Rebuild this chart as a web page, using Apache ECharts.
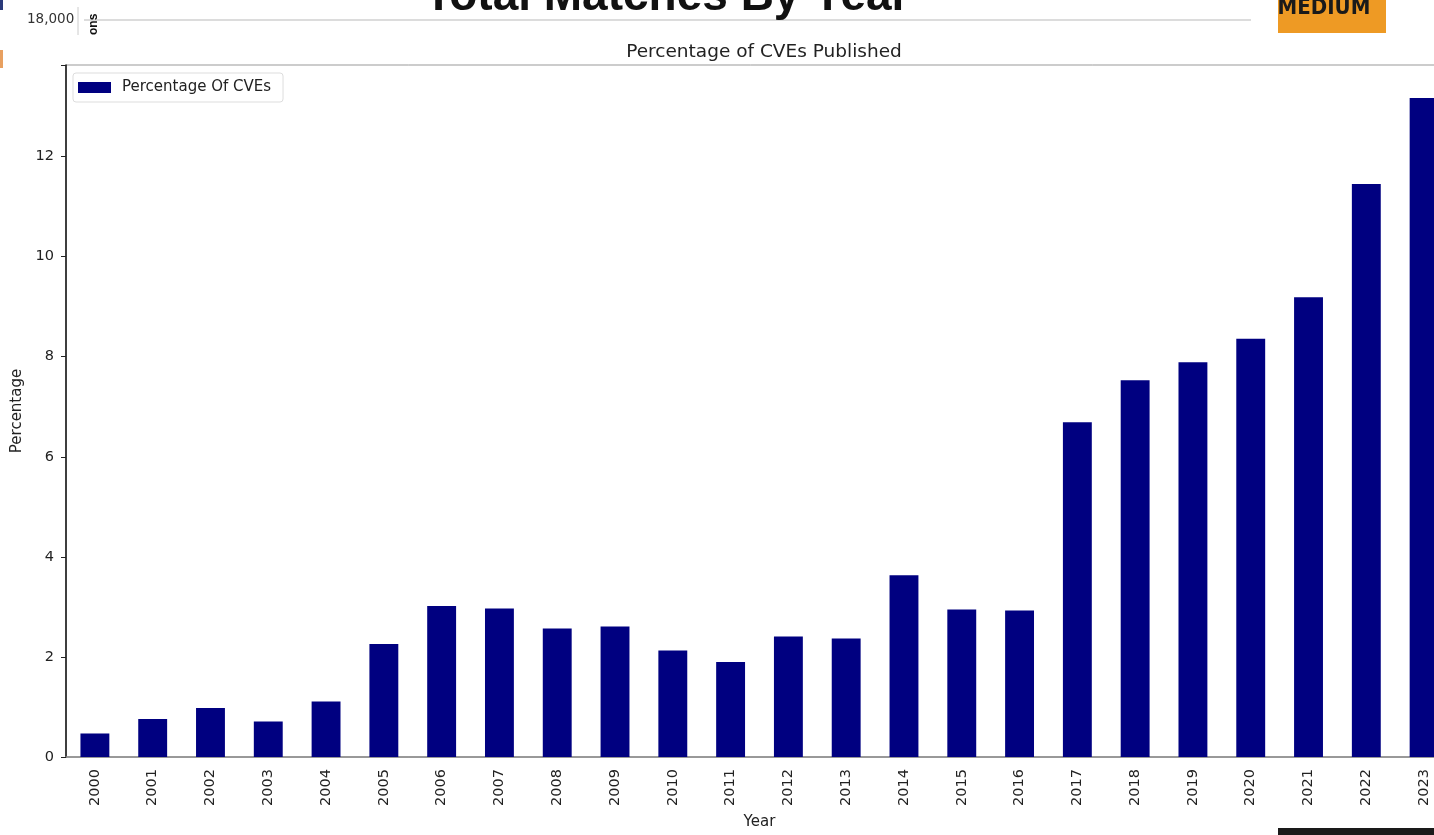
<!DOCTYPE html>
<html>
<head>
<meta charset="UTF-8" />
<title>Percentage of CVEs Published</title>
<script src="https://cdn.jsdelivr.net/npm/echarts@6/dist/echarts.min.js"></script>
<style>
html, body { margin: 0; padding: 0; background: #fff; }
#chart { width: 1434px; height: 835px; }
</style>
</head>
<body>
<div id="chart"></div>
<script>
// data
var years = ["2000", "2001", "2002", "2003", "2004", "2005", "2006", "2007",
  "2008", "2009", "2010", "2011", "2012", "2013", "2014", "2015",
  "2016", "2017", "2018", "2019", "2020", "2021", "2022", "2023"];
var percentOfCves = [0.47, 0.76, 0.98, 0.71, 1.11, 2.26, 3.02, 2.97,
  2.57, 2.61, 2.13, 1.90, 2.41, 2.37, 3.63, 2.95,
  2.93, 6.69, 7.53, 7.89, 8.36, 9.19, 11.45, 13.17];
var yTicks = [0, 2, 4, 6, 8, 10, 12];

var font = "DejaVu Sans";
var myChart = echarts.init(document.getElementById("chart"));

var option = {
  animation: false,
  textStyle: { fontFamily: font },
  title: {
    text: "Percentage of CVEs Published",
    left: 759, top: 38, textAlign: "center",
    textStyle: { fontFamily: font, fontSize: 18.5, fontWeight: "normal", color: "#222" }
  },
  legend: {
    data: ["Percentage Of CVEs"],
    icon: "rect",
    left: 73, top: 73,
    padding: [7, 12, 7, 5],
    itemWidth: 33, itemHeight: 11, itemGap: 10,
    borderColor: "#ddd", borderWidth: 1, borderRadius: 3,
    textStyle: { fontFamily: font, fontSize: 15, color: "#222", padding: [0, 0, 0, 6] }
  },
  grid: {
    left: 66, top: 65, right: -19, bottom: 78,
    outerBoundsMode: "none",
    containLabel: false,
    show: true, borderColor: "#999", borderWidth: 1, backgroundColor: "#fff"
  },
  xAxis: {
    type: "category",
    data: years,
    name: "Year",
    nameLocation: "middle",
    nameGap: 58,
    nameTextStyle: { fontFamily: font, fontSize: 15, color: "#222" },
    axisLine: { lineStyle: { color: "#888", width: 1.5 } },
    axisTick: { alignWithLabel: true, length: 5, lineStyle: { color: "#222" } },
    axisLabel: { rotate: 90, margin: 12, fontFamily: font, fontSize: 14.5, color: "#222" },
    splitLine: { show: false }
  },
  yAxis: {
    type: "value",
    min: 0, max: 13.83, interval: 2,
    name: "Percentage",
    nameLocation: "middle",
    nameGap: 40,
    nameTextStyle: { fontFamily: font, fontSize: 15, color: "#222" },
    axisLine: { show: true, lineStyle: { color: "#111", width: 1.5 } },
    axisTick: { show: true, length: 5, lineStyle: { color: "#222" } },
    axisLabel: {
      margin: 12, fontFamily: font, fontSize: 14.5, color: "#222",
      formatter: function (v) { return yTicks.indexOf(v) >= 0 ? String(v) : ""; }
    },
    splitLine: { show: false }
  },
  series: [{
    name: "Percentage Of CVEs",
    type: "bar",
    data: percentOfCves,
    barWidth: "50%",
    itemStyle: { color: "#000080" }
  }],
  // bits of the surrounding screenshot
  graphic: [
    { type: "rect", left: 0, top: 0, shape: { width: 3, height: 10 }, style: { fill: "#2a3a7a" } },
    { type: "rect", left: 0, top: 50, shape: { width: 3, height: 18 }, style: { fill: "#e8a060" } },
    { type: "line", shape: { x1: 84, y1: 20, x2: 1251, y2: 20 }, style: { stroke: "#d0d0d0", lineWidth: 1.5 } },
    { type: "line", shape: { x1: 78, y1: 7, x2: 78, y2: 35 }, style: { stroke: "#ccc", lineWidth: 1 } },
    { type: "text", left: 27, top: 12, style: { text: "18,000", font: "13.5px 'DejaVu Sans'", fill: "#333" } },
    { type: "text", x: 88, y: 35, rotation: Math.PI / 2, style: { text: "ons", font: "bold 12px 'Liberation Sans'", fill: "#111" } },
    { type: "text", x: 667, y: 20, style: { text: "Total Matches By Year", font: "bold 46px 'Liberation Sans'", fill: "#111", align: "center", verticalAlign: "bottom" } },
    { type: "rect", left: 1278, top: 0, shape: { width: 108, height: 33 }, style: { fill: "#ee9a24" } },
    { type: "text", x: 1324, y: 19, style: { text: "MEDIUM", font: "bold 22px 'DejaVu Sans Condensed', 'DejaVu Sans'", fill: "#1a1a1a", align: "center", verticalAlign: "bottom" } },
    { type: "rect", left: 1278, top: 828, shape: { width: 156, height: 7 }, style: { fill: "#1a1a1a" } }
  ]
};

myChart.setOption(option);
</script>
</body>
</html>
